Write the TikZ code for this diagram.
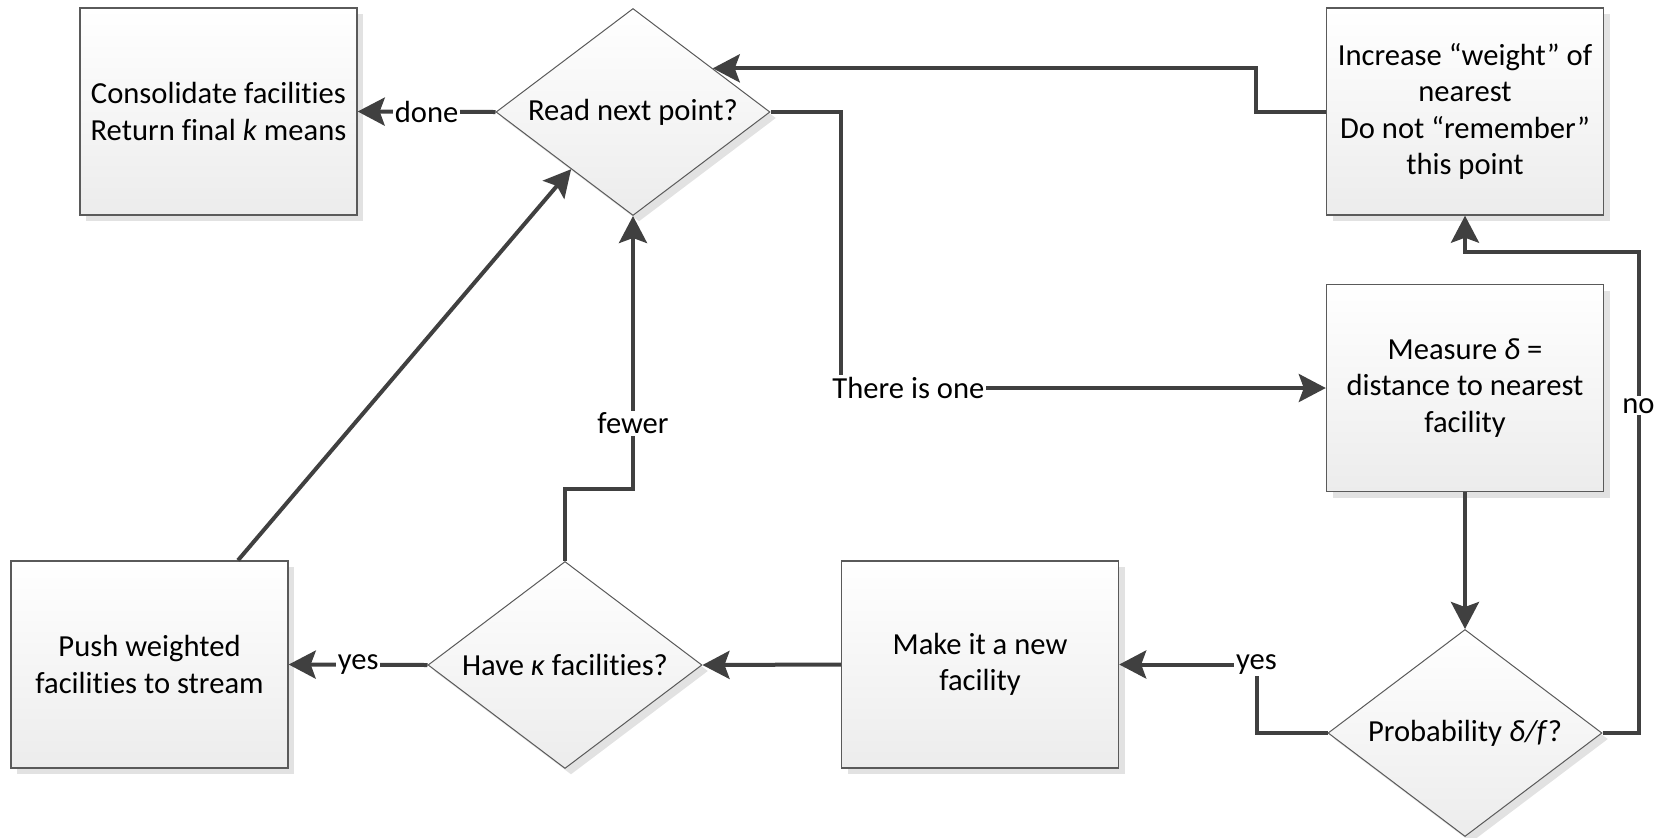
\documentclass[tikz,border=0pt]{standalone}
\usepackage{fontspec}
\setmainfont{Carlito}[Ligatures=NoCommon]
\usetikzlibrary{shapes.geometric,arrows.meta,shadows,calc}

\definecolor{linegray}{HTML}{404040}
\definecolor{edgegray}{HTML}{5A5A5A}
\definecolor{shadegray}{HTML}{ECECEC}
\definecolor{shadowgray}{HTML}{E2E2E2}

\def\boxwd{138.5pt}
\def\boxht{103.5pt}

\begin{document}
\begin{tikzpicture}[x=0.5pt,y=-0.5pt,->,>={Stealth[length=13.5pt,width=14pt,inset=2.5pt]},
    line width=2pt,draw=linegray]
      \tikzstyle{every node}=[font=\fontsize{15.3pt}{18.2pt}\selectfont]
      \tikzstyle{flowshape}=[draw=edgegray, top color=white, bottom color=shadegray, align=center,
          general shadow={fill=shadowgray, shadow xshift=3pt, shadow yshift=-3pt}]
      \tikzstyle{process}=[flowshape, rectangle, line width=0.7pt, minimum width=\boxwd, minimum height=\boxht]
      \tikzstyle{decision}=[flowshape, diamond, aspect=1.32, inner sep=0pt, line width=0.5pt,
          minimum width=137pt, minimum height=\boxht]
      \tikzstyle{lbl}=[fill=white, inner sep=1pt]

      \useasboundingbox (0,0) rectangle (1662,837);

      % Draw the top row
      \node[process] (CONS) at (218.5,111.5) {Consolidate facilities\\Return final \textit{k} means};
      \node[decision] (READ) at (633,112) {Read next point?};
      \node[process] (INCR) at (1465,111.5) {Increase “weight” of\\nearest\\Do not “remember”\\this point};

      % Draw the right column
      \node[process] (MEAS) at (1465,388) {Measure \textit{δ} =\\distance to nearest\\facility};
      \node[decision] (PROB) at (1465,733) {Probability \textit{δ/f}?};

      % Draw the bottom row
      \node[process] (MAKE) at (980,664.5) {Make it a new\\facility};
      \node[decision] (HAVE) at (565,665) {Have \textit{κ} facilities?};
      \node[process] (PUSH) at (149.5,664.5) {Push weighted\\facilities to stream};

      % Connect the steps
      \path (READ.west) edge node[lbl] {done} (CONS.east);
      \draw (READ.east) -- ++(70,0) |- node[lbl,pos=0.57] {There is one} (MEAS.west);
      \foreach \source/\dest in {MEAS.south/PROB.north, MAKE.west/HAVE.east}
          \path (\source) edge (\dest);
      \draw (PROB.east) -- ++(36,0) |- node[lbl,pos=0.34] {no} ($(INCR.south)+(0,36)$) -- (INCR.south);
      \draw (INCR.west) -- ++(-70,0) |- ($(READ.north)!0.58!(READ.east)$);
      \draw (PROB.west) -- ++(-71,0) |- node[lbl,pos=0.5] {yes} (MAKE.east);
      \path (HAVE.west) edge node[lbl] {yes} (PUSH.east);
      \draw (HAVE.north) -- ++(0,-72) -| node[lbl,pos=0.62] {fewer} (READ.south);
      \draw ($(PUSH.north)+(88.5,0)$) -- ($(READ.west)!0.55!(READ.south)$);
\end{tikzpicture}
\end{document}
